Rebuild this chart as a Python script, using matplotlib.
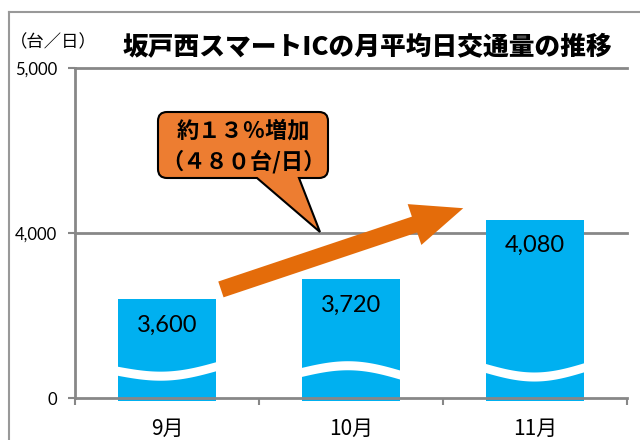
import numpy as np
import matplotlib
matplotlib.use('Agg')
import matplotlib.pyplot as plt
from matplotlib.path import Path
from matplotlib.patches import PathPatch
from matplotlib.lines import Line2D

plt.rcParams['font.family'] = ['Noto Sans CJK JP', 'DejaVu Sans']

# データ
months = ['9月', '10月', '11月']
traffic = [3600, 3720, 4080]
y_ticks = [3000, 4000, 5000]
y_tick_labels = ['0', '4,000', '5,000']
title = '坂戸西スマートICの月平均日交通量の推移'
unit = '（台／日）'
note = ['約１３％増加', '（４８０台/日）']

# 波線（省略記号）の形: 高さ, たわみ, 傾き
waves = [(210, -46, 30), (174, 52, -18), (216, -58, 6)]

W, H = 640, 440
grey = '#878787'
fig = plt.figure(figsize=(6.4, 4.4), dpi=100)
ax = fig.add_axes([75 / W, 42 / H, 552 / W, 329.5 / H])

x = np.arange(len(months))
base = y_ticks[0] - 18
ax.bar(x, np.array(traffic) - base, bottom=base, width=0.53,
       color='#00B0F0', zorder=2, clip_on=False)

# 波線で棒を切る
for xi, (lvl, bend, tilt) in zip(x, waves):
    xs = np.linspace(xi - 0.28, xi + 0.28, 60)
    t = (xs - xs[0]) / (xs[-1] - xs[0])
    top = y_ticks[0] + lvl + bend * np.sin(np.pi * t) + tilt * (t - 0.5)
    ax.fill_between(xs, top - 55, top, color='white', lw=0, zorder=3)

for v in y_ticks[1:]:
    ax.axhline(v, color=grey, lw=2, zorder=1, clip_on=False)

for xi, v in zip(x, traffic):
    ax.annotate(f'{v:,}', (xi, v), xytext=(0, -18.5), textcoords='offset points',
                ha='center', va='center', fontsize=17, family='Lato', zorder=4)

ax.set_xlim(-0.5, 2.5)
ax.set_ylim(y_ticks[0], y_ticks[-1])
ax.set_yticks(y_ticks)
ax.set_yticklabels(y_tick_labels, family='Lato', fontsize=12)
ax.set_xticks(np.arange(len(months) + 1) - 0.5)
ax.set_xticklabels([])
ax.set_xticks(x, minor=True)
ax.set_xticklabels(months, minor=True, fontsize=15)
ax.tick_params(axis='both', which='major', direction='out', length=5, width=1.5, color=grey)
ax.tick_params(axis='y', pad=8)
ax.tick_params(axis='x', which='minor', length=0, pad=14)
for s in ['top', 'right']:
    ax.spines[s].set_visible(False)
for s in ['left', 'bottom']:
    ax.spines[s].set_color(grey)
    ax.spines[s].set_linewidth(2)
    ax.spines[s].set_zorder(4)

# 増加の矢印
ax.annotate('', xy=(1.61, 4152), xytext=(0.293, 3659),
            arrowprops=dict(arrowstyle='simple,head_length=37,head_width=31,tail_width=12',
                            mutation_scale=1, color='#E46C0A', lw=0,
                            shrinkA=0, shrinkB=0), zorder=5)

# 吹き出し
def to_fig(px, py):
    return (px / W, 1 - py / H)

x0, y0, x1, y1, r = 158, 112, 328, 178, 9
pb0, pb1, tip = 257, 299, (320, 232)
pts = [(x0 + r, y0), (x1 - r, y0), (x1, y0), (x1, y0 + r), (x1, y1 - r), (x1, y1),
       (x1 - r, y1), (pb1, y1), tip, (pb0, y1), (x0 + r, y1), (x0, y1), (x0, y1 - r),
       (x0, y0 + r), (x0, y0), (x0 + r, y0), (x0 + r, y0)]
codes = [Path.MOVETO, Path.LINETO, Path.CURVE3, Path.CURVE3, Path.LINETO, Path.CURVE3,
         Path.CURVE3, Path.LINETO, Path.LINETO, Path.LINETO, Path.LINETO, Path.CURVE3,
         Path.CURVE3, Path.LINETO, Path.CURVE3, Path.CURVE3, Path.CLOSEPOLY]
callout = PathPatch(Path([to_fig(*p) for p in pts], codes), transform=fig.transFigure,
                    facecolor='#ED7D31', edgecolor='black', lw=1.5, zorder=6)
fig.add_artist(callout)
fig.text(*to_fig(243, 131), note[0], ha='center', va='center', fontsize=16,
         weight='bold', zorder=7)
fig.text(*to_fig(243, 162), note[1], ha='center', va='center', fontsize=16,
         weight='bold', zorder=7)

fig.text(*to_fig(367, 47), title, ha='center', va='center', fontsize=18.5, weight='heavy')
fig.text(*to_fig(10, 42), unit, ha='left', va='center', fontsize=12.5)

# 外枠
fig.add_artist(Line2D([9 / W, 9 / W], [0, 1 - 12 / H], color='#999999', lw=1.5))
fig.add_artist(Line2D([9 / W, 1], [1 - 12 / H, 1 - 12 / H], color='#999999', lw=1.5))

fig.savefig('out.png', dpi=100)
